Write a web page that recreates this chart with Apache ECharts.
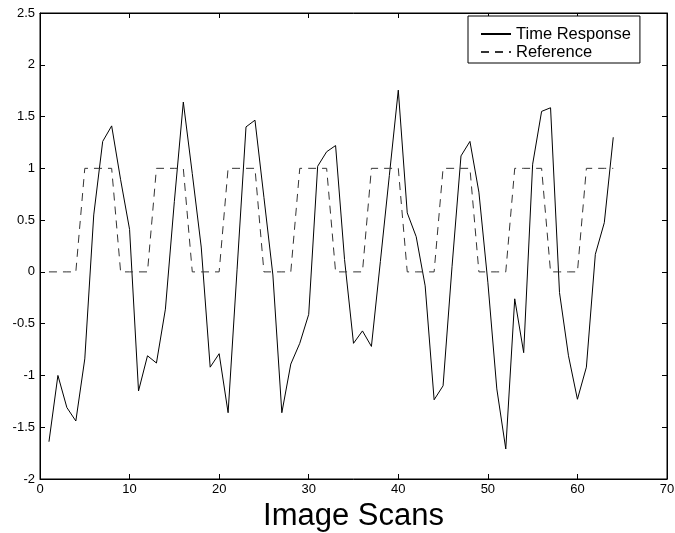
<!DOCTYPE html>
<html>
<head>
<meta charset="utf-8">
<script src="https://cdn.jsdelivr.net/npm/echarts@6/dist/echarts.min.js"></script>
<style>
  html, body { margin: 0; padding: 0; background: #fff; }
  #chart { width: 675px; height: 533px; }
</style>
</head>
<body>
<div id="chart"></div>
<script>
// Scan index for every sample
const scans = [1, 2, 3, 4, 5, 6, 7, 8, 9, 10, 11, 12, 13, 14, 15, 16,
               17, 18, 19, 20, 21, 22, 23, 24, 25, 26, 27, 28, 29, 30, 31, 32,
               33, 34, 35, 36, 37, 38, 39, 40, 41, 42, 43, 44, 45, 46, 47, 48,
               49, 50, 51, 52, 53, 54, 55, 56, 57, 58, 59, 60, 61, 62, 63, 64];

// Measured time response
const timeResponse = [-1.64, -1.0, -1.31, -1.44, -0.84, 0.55, 1.26, 1.41,
                      0.89, 0.41, -1.15, -0.81, -0.88, -0.36, 0.68, 1.64,
                      0.95, 0.24, -0.92, -0.79, -1.36, 0.02, 1.40, 1.465,
                      0.72, -0.03, -1.36, -0.89, -0.69, -0.41, 1.02, 1.16,
                      1.22, 0.12, -0.69, -0.57, -0.72, 0.10, 0.93, 1.755,
                      0.57, 0.34, -0.135, -1.235, -1.10, 0.05, 1.12, 1.26,
                      0.77, -0.10, -1.13, -1.71, -0.26, -0.78, 1.04, 1.55,
                      1.585, -0.20, -0.81, -1.23, -0.92, 0.17, 0.475, 1.30];

// Square-wave reference signal
const reference = [0, 0, 0, 0, 1, 1, 1, 1, 0, 0, 0, 0, 1, 1, 1, 1,
                   0, 0, 0, 0, 1, 1, 1, 1, 0, 0, 0, 0, 1, 1, 1, 1,
                   0, 0, 0, 0, 1, 1, 1, 1, 0, 0, 0, 0, 1, 1, 1, 1,
                   0, 0, 0, 0, 1, 1, 1, 1, 0, 0, 0, 0, 1, 1, 1, 1];

const seriesNames = ['Time Response', 'Reference'];
const xTitle = 'Image Scans';

const font = '"Liberation Sans", Arial, Helvetica, sans-serif';

const pairs = (ys) => scans.map((x, i) => [x, ys[i]]);

const chart = echarts.init(document.getElementById('chart'), null, { renderer: 'canvas' });

// Inward ticks, as on a classic framed plot
const tick = () => ({ show: true, inside: true, length: 5, lineStyle: { color: '#000', width: 1 } });
const line = () => ({ show: true, onZero: false, lineStyle: { color: '#000', width: 1 } });
const labelStyle = () => ({ color: '#000', fontFamily: font, fontSize: 13 });

chart.setOption({
  animation: false,
  backgroundColor: '#fff',
  grid: {
    left: 40, right: 8, top: 13, bottom: 54,
    outerBoundsMode: 'none',
    containLabel: false,
    show: true, borderColor: '#000', borderWidth: 1, backgroundColor: '#fff'
  },
  legend: {
    orient: 'vertical',
    left: 468, top: 16,
    data: seriesNames,
    itemWidth: 30, itemHeight: 14, itemGap: 0,
    padding: [9, 9, 2, 12],
    borderColor: '#000', borderWidth: 1, borderRadius: 0,
    backgroundColor: '#fff',
    itemStyle: { opacity: 0 },
    textStyle: { color: '#000', fontFamily: font, fontSize: 16.5, lineHeight: 18 }
  },
  xAxis: [
    {
      type: 'value', min: 0, max: 70, interval: 10,
      position: 'bottom',
      axisLine: line(),
      axisTick: tick(),
      axisLabel: Object.assign({ margin: 4 }, labelStyle()),
      splitLine: { show: false },
      name: xTitle, nameLocation: 'middle', nameGap: 22,
      nameTextStyle: { color: '#000', fontFamily: font, fontSize: 31, verticalAlign: 'top' }
    },
    {
      type: 'value', min: 0, max: 70, interval: 10,
      position: 'top',
      axisLine: line(),
      axisTick: tick(),
      axisLabel: { show: false },
      splitLine: { show: false }
    }
  ],
  yAxis: [
    {
      type: 'value', min: -2, max: 2.5, interval: 0.5,
      position: 'left',
      axisLine: line(),
      axisTick: tick(),
      axisLabel: Object.assign({ margin: 5 }, labelStyle()),
      splitLine: { show: false }
    },
    {
      type: 'value', min: -2, max: 2.5, interval: 0.5,
      position: 'right',
      axisLine: line(),
      axisTick: tick(),
      axisLabel: { show: false },
      splitLine: { show: false }
    }
  ],
  series: [
    {
      name: seriesNames[0], type: 'line',
      data: pairs(timeResponse),
      showSymbol: false, symbol: 'none',
      lineStyle: { color: '#000', width: 1, type: 'solid' },
      itemStyle: { color: '#000' }
    },
    {
      name: seriesNames[1], type: 'line',
      data: pairs(reference),
      showSymbol: false, symbol: 'none',
      lineStyle: { color: '#333', width: 1, type: [8, 6] },
      itemStyle: { color: '#333' }
    }
  ]
});
</script>
</body>
</html>
